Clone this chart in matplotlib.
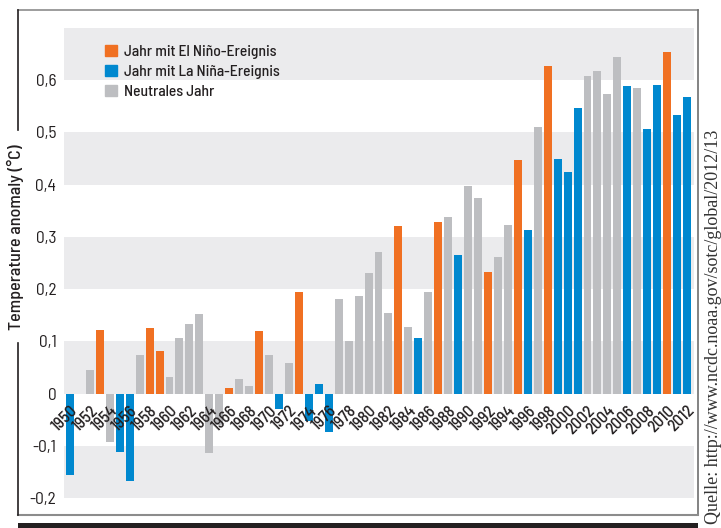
import matplotlib
matplotlib.use("Agg")
import matplotlib.pyplot as plt
from matplotlib.lines import Line2D
from matplotlib.patches import Patch, Rectangle

# data (NOAA global temperature anomaly, 1950-2012)
years = list(range(1950, 2013))
anomaly = [
    -0.155, 0.0, 0.045, 0.122, -0.092, -0.111, -0.168, 0.074, 0.126, 0.081,
    0.031, 0.106, 0.133, 0.152, -0.113, -0.060, 0.010, 0.028, 0.014, 0.120,
    0.074, -0.030, 0.058, 0.195, -0.053, 0.018, -0.074, 0.181, 0.100, 0.187,
    0.231, 0.272, 0.154, 0.320, 0.127, 0.106, 0.195, 0.329, 0.339, 0.266,
    0.397, 0.374, 0.233, 0.262, 0.323, 0.447, 0.314, 0.510, 0.628, 0.449,
    0.424, 0.547, 0.608, 0.618, 0.574, 0.645, 0.589, 0.585, 0.506, 0.591,
    0.654, 0.533, 0.568,
]
# E = El Nino, L = La Nina, N = neutral
event = list(
    "LNNENLLNEE"
    "NNNNNNENNE"
    "NLNELLLNNN"
    "NNNENLNENL"
    "NNENNELNEL"
    "LLNNNNLNLL"
    "ELL"
)
legend_labels = ["Jahr mit El Niño-Ereignis", "Jahr mit La Niña-Ereignis", "Neutrales Jahr"]
ytick_vals = [-0.2, -0.1, 0, 0.1, 0.2, 0.3, 0.4, 0.5, 0.6]
ytick_labels = ["-0,2", "-0,1", "0", "0,1", "0,2", "0,3", "0,4", "0,5", "0,6"]
xtick_years = list(range(1950, 2013, 2))

COLORS = {"E": "#f07022", "L": "#0088cf", "N": "#bdbec1"}
BAND = "#ebebed"
INK = "#231f20"

SANS = ["Barlow Semi Condensed", "DejaVu Sans"]
plt.rcParams["font.family"] = SANS

W, H = 721, 528
fig = plt.figure(figsize=(W / 100, H / 100), dpi=100)
ax = fig.add_axes([64 / W, 1 - 498 / H, 630 / W, 470 / H])

# alternating horizontal bands
for lo in [-0.2, 0.0, 0.2, 0.4, 0.6]:
    ax.axhspan(lo, lo + 0.1, color=BAND, lw=0, zorder=0)

ax.bar(years, anomaly, width=0.8, color=[COLORS[e] for e in event], zorder=2)

ax.set_xlim(1949.4, 2012.7)
ax.set_ylim(-0.2, 0.7)
ax.set_xticks([])
ax.set_yticks(ytick_vals)
ax.set_yticklabels(ytick_labels, fontsize=12.5, color=INK)
ax.tick_params(axis="y", length=0, pad=5.5)
for s in ax.spines.values():
    s.set_visible(False)

# rotated year labels just below the zero line
for yr in xtick_years:
    ax.text(yr, -0.018, str(yr), rotation=45, rotation_mode="anchor",
            ha="right", va="top", fontsize=12, weight="medium", color=INK, zorder=3)

# legend
handles = [Patch(color=COLORS[k]) for k in "ELN"]
ax.legend(handles, legend_labels, loc="upper left",
          bbox_to_anchor=(105 / W, 1 - 45 / H), bbox_transform=fig.transFigure,
          frameon=False, borderpad=0, borderaxespad=0,
          handlelength=0.8, handleheight=0.75, handletextpad=0.4,
          labelspacing=0.38, labelcolor=INK,
          prop={"family": SANS, "weight": "medium", "size": 11.2})

# outer frame
def fline(x0, y0, x1, y1, color, lw):
    fig.add_artist(Line2D([x0 / W, x1 / W], [1 - y0 / H, 1 - y1 / H],
                          transform=fig.transFigure, color=color, lw=lw))

fline(18, 10, 698, 10, "#8c8c8c", 1.2)
fline(698, 10, 698, 515, "#6e6e6e", 1.2)
fline(18, 515, 698, 515, "#8c8c8c", 1.5)
fline(18, 10, 18, 130, INK, 1.2)
fline(18, 343, 18, 515, INK, 1.2)
fig.add_artist(Rectangle((18 / W, 0), 680 / W, 5 / H, transform=fig.transFigure,
                         color=INK, lw=0))

fig.text(15 / W, 1 - 237 / H, "Temperature anomaly (°C)", rotation=90,
         ha="center", va="center", fontsize=13, weight="medium", color=INK)
fig.text(714 / W, 1 - 130 / H, "Quelle: http://www.ncdc.noaa.gov/sotc/global/2012/13",
         rotation=90, ha="center", va="top", fontsize=13, color="#333333",
         family=["Liberation Serif", "DejaVu Serif"])

fig.savefig("out.png", dpi=100)
